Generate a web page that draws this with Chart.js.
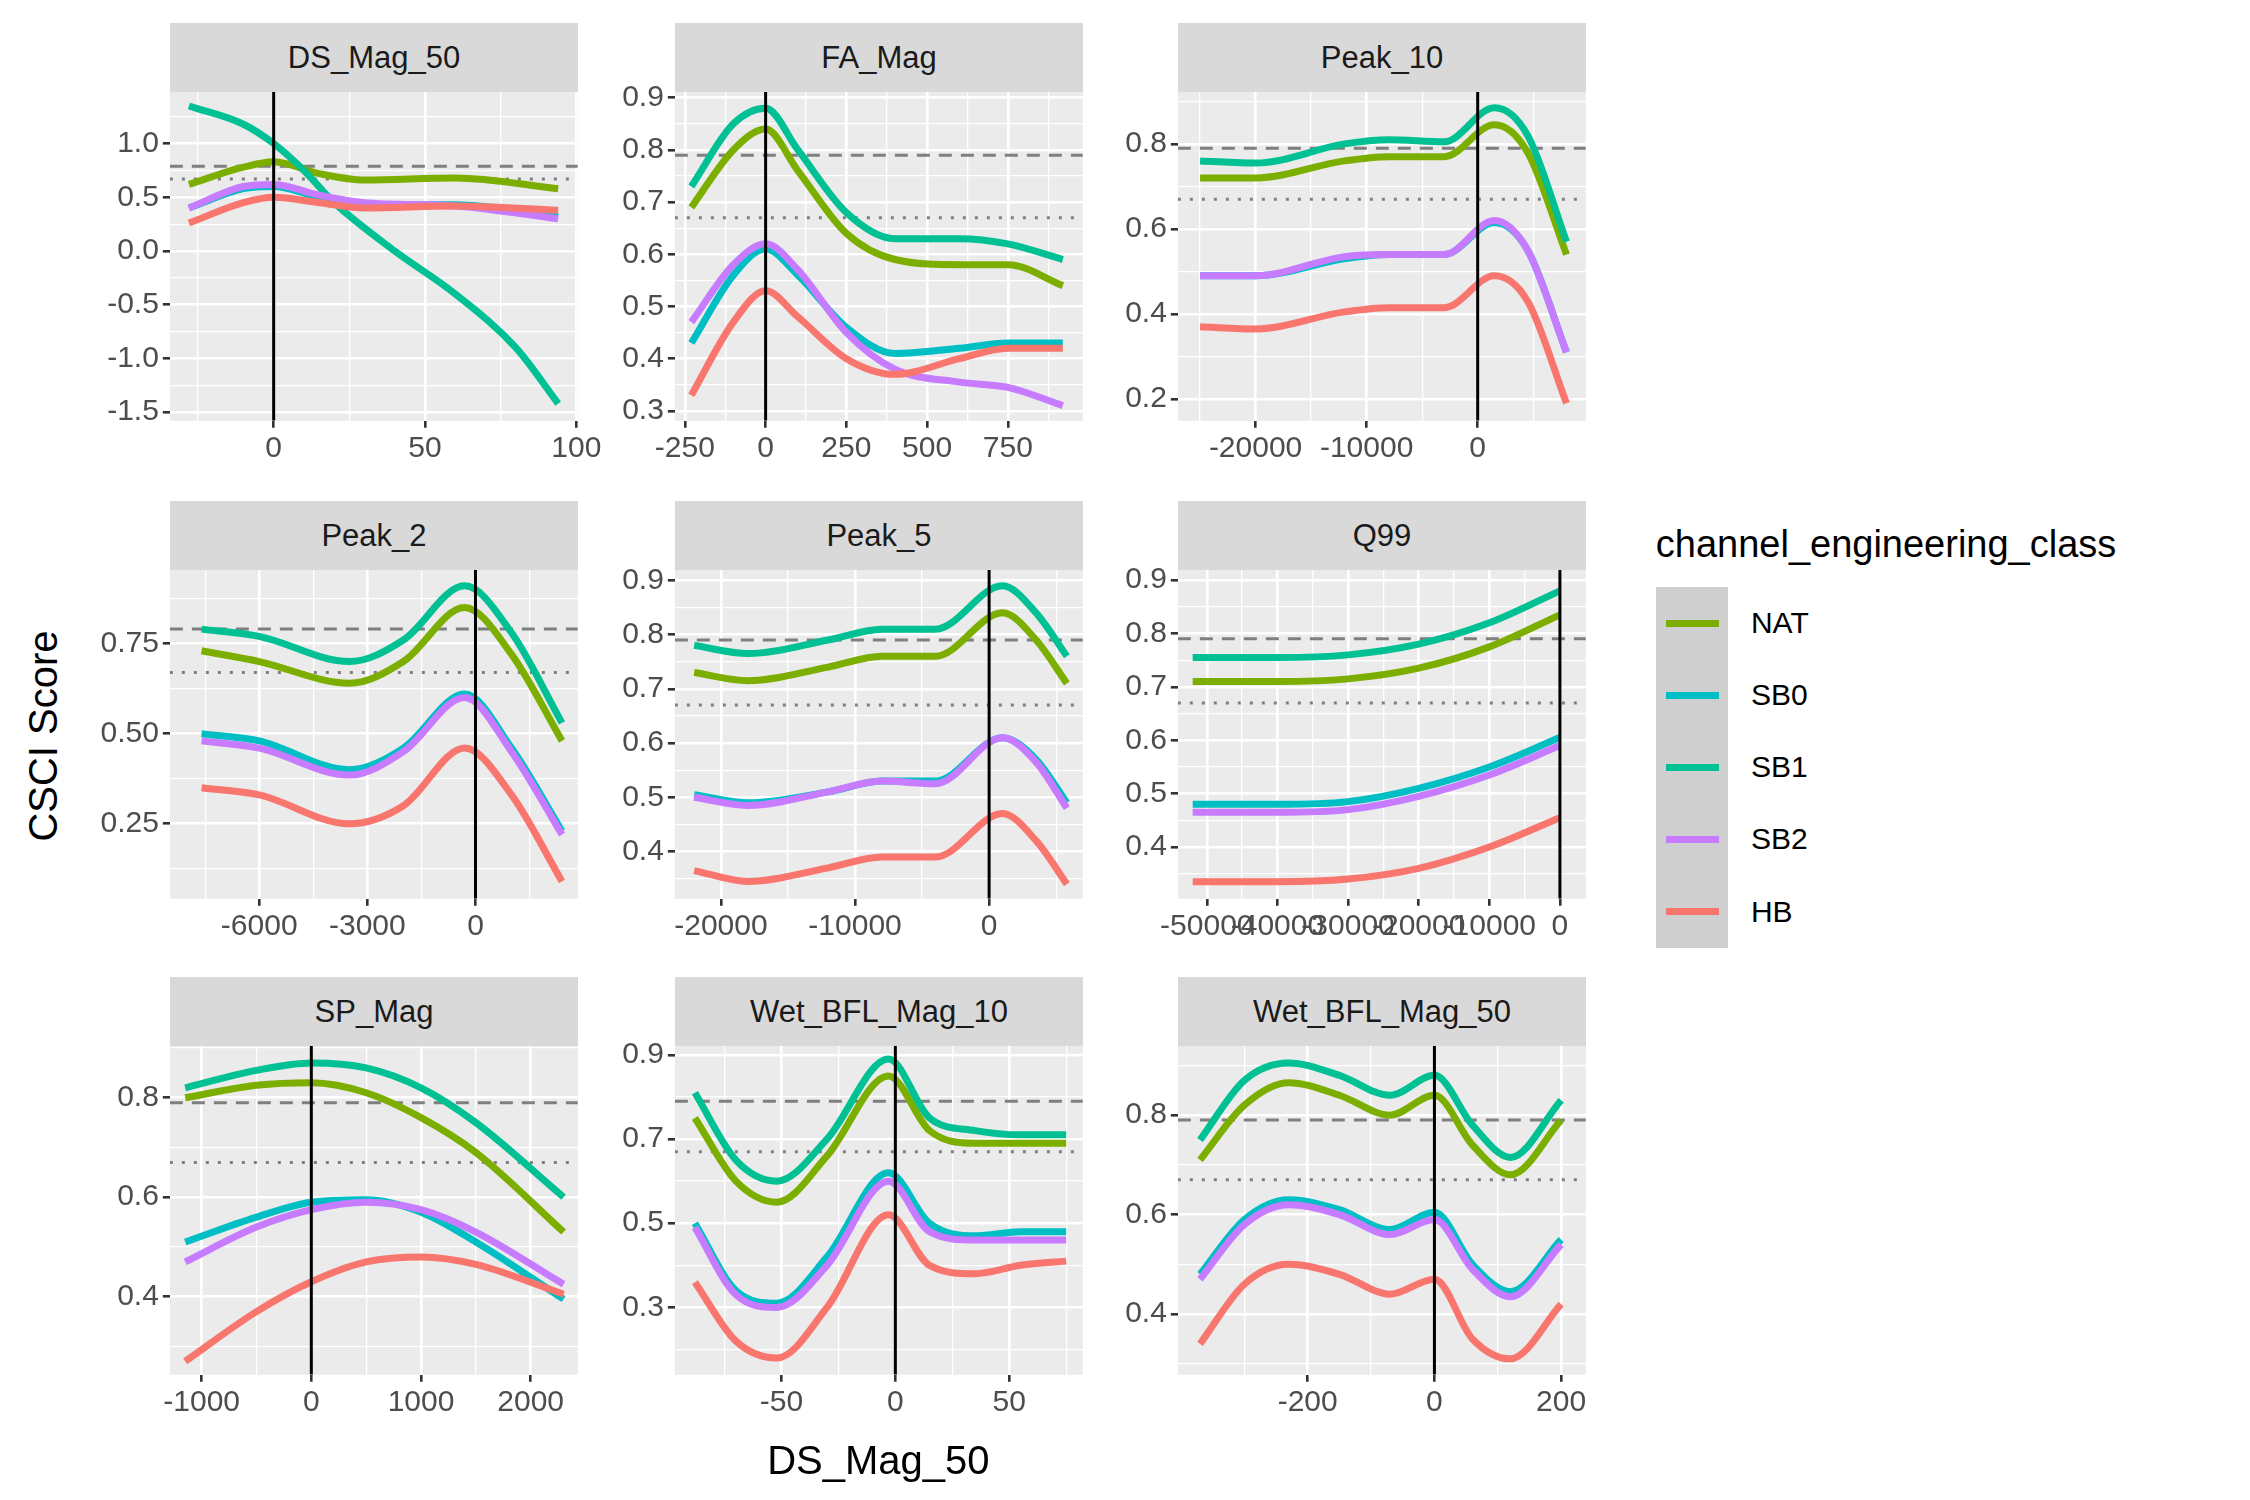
<!DOCTYPE html>
<html>
<head>
<meta charset="utf-8">
<script src="https://cdn.jsdelivr.net/npm/chart.js@4"></script>
<style>
  body { margin: 0; background: #fff; font-family: "Liberation Sans", Arial, sans-serif; }
  #wrap { position: relative; width: 2250px; height: 1500px; overflow: hidden; }
  canvas { position: absolute; }
  .strip { position: absolute; background: #D9D9D9; color: #1A1A1A; font-size: 31px;
           display: flex; align-items: center; justify-content: center; }
  .txt { position: absolute; color: #000; white-space: nowrap; }
</style>
</head>
<body>
<div id="wrap"></div>
<script>
// ---- data ----
var seriesNames = ['NAT', 'SB0', 'SB1', 'SB2', 'HB'];
var seriesColors = ['#7CAE00', '#00BFC4', '#00C094', '#C77CFF', '#F8766D'];
var panelTitles = ['DS_Mag_50', 'FA_Mag', 'Peak_10', 'Peak_2', 'Peak_5', 'Q99', 'SP_Mag', 'Wet_BFL_Mag_10', 'Wet_BFL_Mag_50'];
var refDashed = 0.79;
var refDotted = 0.67;

var p1X   = [-28, -10, 0, 15, 30, 60, 94];
var p1NAT = [0.62, 0.78, 0.83, 0.72, 0.66, 0.68, 0.58];
var p1SB0 = [0.40, 0.58, 0.60, 0.50, 0.43, 0.43, 0.32];
var p1SB2 = [0.40, 0.60, 0.62, 0.52, 0.45, 0.42, 0.30];
var p1HB  = [0.26, 0.45, 0.50, 0.45, 0.40, 0.42, 0.38];
var p1SB1X = [-28, -10, 0, 10, 20, 40, 60, 80, 94];
var p1SB1  = [1.35, 1.18, 1.0, 0.75, 0.45, 0.0, -0.4, -0.9, -1.42];

var p2X   = [-230, -100, 0, 100, 250, 400, 600, 750, 920];
var p2NAT = [0.69, 0.80, 0.84, 0.76, 0.64, 0.59, 0.58, 0.58, 0.54];
var p2SB1 = [0.73, 0.85, 0.88, 0.80, 0.68, 0.63, 0.63, 0.62, 0.59];
var p2SB0 = [0.43, 0.56, 0.61, 0.56, 0.46, 0.41, 0.42, 0.43, 0.43];
var p2SB2 = [0.47, 0.58, 0.62, 0.57, 0.45, 0.38, 0.355, 0.345, 0.31];
var p2HB  = [0.33, 0.47, 0.53, 0.48, 0.40, 0.37, 0.40, 0.42, 0.42];

var p3X   = [-25000, -20000, -12000, -8000, -3000, 1500, 4500, 8000];
var p3NAT = [0.72, 0.72, 0.76, 0.77, 0.77, 0.845, 0.78, 0.54];
var p3SB1 = [0.76, 0.755, 0.80, 0.81, 0.805, 0.885, 0.82, 0.57];
var p3SB0 = [0.49, 0.49, 0.53, 0.54, 0.54, 0.615, 0.55, 0.31];
var p3SB2 = [0.49, 0.49, 0.535, 0.54, 0.54, 0.62, 0.55, 0.31];
var p3HB  = [0.37, 0.365, 0.405, 0.415, 0.415, 0.49, 0.43, 0.19];

var p4X   = [-7600, -6000, -3500, -2000, -300, 1000, 2400];
var p4NAT = [0.73, 0.70, 0.64, 0.70, 0.85, 0.72, 0.48];
var p4SB1 = [0.79, 0.77, 0.70, 0.76, 0.91, 0.78, 0.53];
var p4SB0 = [0.50, 0.48, 0.40, 0.46, 0.61, 0.46, 0.23];
var p4SB2 = [0.48, 0.46, 0.385, 0.45, 0.60, 0.45, 0.22];
var p4HB  = [0.35, 0.33, 0.25, 0.30, 0.46, 0.33, 0.09];

var p5X   = [-22000, -18000, -12000, -8000, -4000, 1000, 3500, 5800];
var p5NAT = [0.73, 0.715, 0.74, 0.76, 0.76, 0.84, 0.79, 0.71];
var p5SB1 = [0.78, 0.765, 0.79, 0.81, 0.81, 0.89, 0.84, 0.76];
var p5SB0 = [0.505, 0.49, 0.51, 0.53, 0.53, 0.61, 0.57, 0.49];
var p5SB2 = [0.50, 0.485, 0.51, 0.53, 0.525, 0.61, 0.565, 0.48];
var p5HB  = [0.365, 0.345, 0.37, 0.39, 0.39, 0.47, 0.42, 0.34];

var p6X   = [-52000, -40000, -30000, -20000, -10000, 0];
var p6NAT = [0.71, 0.71, 0.715, 0.735, 0.775, 0.835];
var p6SB1 = [0.755, 0.755, 0.76, 0.78, 0.82, 0.88];
var p6SB0 = [0.48, 0.48, 0.485, 0.51, 0.55, 0.605];
var p6SB2 = [0.465, 0.465, 0.47, 0.495, 0.535, 0.59];
var p6HB  = [0.335, 0.335, 0.34, 0.36, 0.40, 0.455];

var p7X   = [-1150, -500, 0, 500, 1000, 1500, 2300];
var p7NAT = [0.80, 0.825, 0.83, 0.81, 0.76, 0.69, 0.53];
var p7SB1 = [0.82, 0.855, 0.87, 0.86, 0.82, 0.75, 0.60];
var p7SB0 = [0.51, 0.56, 0.59, 0.595, 0.57, 0.51, 0.395];
var p7SB2 = [0.47, 0.54, 0.575, 0.59, 0.575, 0.53, 0.425];
var p7HB  = [0.27, 0.37, 0.43, 0.47, 0.48, 0.465, 0.405];

var p8X   = [-88, -70, -52, -30, -3, 15, 35, 55, 75];
var p8NAT = [0.75, 0.60, 0.55, 0.66, 0.85, 0.72, 0.69, 0.69, 0.69];
var p8SB1 = [0.81, 0.65, 0.60, 0.70, 0.89, 0.75, 0.72, 0.71, 0.71];
var p8SB0 = [0.50, 0.34, 0.31, 0.42, 0.62, 0.50, 0.47, 0.48, 0.48];
var p8SB2 = [0.49, 0.33, 0.30, 0.40, 0.60, 0.48, 0.46, 0.46, 0.46];
var p8HB  = [0.36, 0.22, 0.18, 0.30, 0.52, 0.40, 0.38, 0.40, 0.41];

var p9X   = [-370, -300, -230, -150, -70, 0, 60, 120, 200];
var p9NAT = [0.71, 0.82, 0.865, 0.84, 0.80, 0.84, 0.74, 0.68, 0.79];
var p9SB1 = [0.75, 0.87, 0.905, 0.88, 0.84, 0.88, 0.78, 0.715, 0.83];
var p9SB0 = [0.48, 0.59, 0.63, 0.61, 0.57, 0.605, 0.50, 0.445, 0.55];
var p9SB2 = [0.47, 0.58, 0.62, 0.60, 0.56, 0.59, 0.49, 0.435, 0.54];
var p9HB  = [0.34, 0.46, 0.50, 0.48, 0.44, 0.47, 0.35, 0.31, 0.42];

// axis limits and ticks
var xLimits = [[-34.3, 100.5], [-281, 982], [-27000, 9740], [-8480, 2840], [-23440, 6990], [-54100, 3670], [-1290, 2430], [-96.8, 82.3], [-405, 239]];
var yLimits = [[-1.58, 1.48], [0.281, 0.911], [0.149, 0.922], [0.042, 0.954], [0.313, 0.919], [0.303, 0.919], [0.243, 0.904], [0.14, 0.921], [0.278, 0.939]];
var xTicks = [[0, 50, 100], [-250, 0, 250, 500, 750], [-20000, -10000, 0], [-6000, -3000, 0], [-20000, -10000, 0],
              [-50000, -40000, -30000, -20000, -10000, 0], [-1000, 0, 1000, 2000], [-50, 0, 50], [-200, 0, 200]];
var yTicks = [[-1.5, -1.0, -0.5, 0.0, 0.5, 1.0], [0.3, 0.4, 0.5, 0.6, 0.7, 0.8, 0.9], [0.2, 0.4, 0.6, 0.8], [0.25, 0.50, 0.75],
              [0.4, 0.5, 0.6, 0.7, 0.8, 0.9], [0.4, 0.5, 0.6, 0.7, 0.8, 0.9], [0.4, 0.6, 0.8], [0.3, 0.5, 0.7, 0.9], [0.4, 0.6, 0.8]];
var yDecimals = [1, 1, 1, 2, 1, 1, 1, 1, 1];

var panelX = [p1X, p2X, p3X, p4X, p5X, p6X, p7X, p8X, p9X];
var panelY = [
  [p1NAT, p1SB0, p1SB1, p1SB2, p1HB], [p2NAT, p2SB0, p2SB1, p2SB2, p2HB], [p3NAT, p3SB0, p3SB1, p3SB2, p3HB],
  [p4NAT, p4SB0, p4SB1, p4SB2, p4HB], [p5NAT, p5SB0, p5SB1, p5SB2, p5HB], [p6NAT, p6SB0, p6SB1, p6SB2, p6HB],
  [p7NAT, p7SB0, p7SB1, p7SB2, p7HB], [p8NAT, p8SB0, p8SB1, p8SB2, p8HB], [p9NAT, p9SB0, p9SB1, p9SB2, p9HB]
];

// ---- layout (measured at 1560 px width, scaled up) ----
var S = 2250 / 1560;
var colLeft = [118, 468, 817];
var rowTop = [64, 395, 725];
var plotW = 283, plotH = 228, stripH = 48;
var L = 72 * S, B = 48 * S, R = 32 * S, T = 24;
var tickFont = 30;
var wrap = document.getElementById('wrap');

function withMinor(t, lo, hi) {
  var out = [];
  var step = t.length > 1 ? t[1] - t[0] : 1;
  var first = t[0] - step / 2;
  for (var v = first; v <= hi + 1e-9; v += step / 2) {
    if (v >= lo - 1e-9) {
      var major = t.some(function (m) { return Math.abs(m - v) < step * 1e-6; });
      out.push({ value: v, major: major });
    }
  }
  return out;
}

function pts(xs, ys) {
  return xs.map(function (x, i) { return { x: x, y: ys[i] }; });
}

function addText(str, left, top, size) {
  var d = document.createElement('div');
  d.className = 'txt';
  d.textContent = str;
  d.style.left = left + 'px';
  d.style.top = top + 'px';
  d.style.fontSize = size + 'px';
  wrap.appendChild(d);
  return d;
}

panelTitles.forEach(function (title, p) {
  var c = p % 3, r = Math.floor(p / 3);
  var pl = Math.round(colLeft[c] * S), pt = Math.round(rowTop[r] * S);
  var pw = Math.round(plotW * S), ph = Math.round(plotH * S);

  var strip = document.createElement('div');
  strip.className = 'strip';
  strip.textContent = title;
  strip.style.left = pl + 'px';
  strip.style.top = (pt - Math.round(stripH * S)) + 'px';
  strip.style.width = pw + 'px';
  strip.style.height = Math.round(stripH * S) + 'px';
  wrap.appendChild(strip);

  var cv = document.createElement('canvas');
  cv.width = Math.round(pw + L + R);
  cv.height = Math.round(ph + B + T);
  cv.style.left = (pl - Math.round(L)) + 'px';
  cv.style.top = (pt - T) + 'px';
  wrap.appendChild(cv);

  var xl = xLimits[p], yl = yLimits[p];
  var datasets = [];
  datasets.push({ data: [{ x: xl[0], y: refDashed }, { x: xl[1], y: refDashed }], borderColor: '#7F7F7F',
                  borderWidth: 3, borderDash: [13, 9], order: 10 });
  datasets.push({ data: [{ x: xl[0], y: refDotted }, { x: xl[1], y: refDotted }], borderColor: '#7F7F7F',
                  borderWidth: 3, borderDash: [3, 9], order: 10 });
  var drawOrder = [4, 3, 1, 2, 0]; // HB bottom ... NAT top
  seriesNames.forEach(function (name, s) {
    var xs = (p === 0 && name === 'SB1') ? p1SB1X : panelX[p];
    var ys = (p === 0 && name === 'SB1') ? p1SB1 : panelY[p][s];
    datasets.push({ data: pts(xs, ys), borderColor: seriesColors[s], borderWidth: 7,
                    cubicInterpolationMode: 'monotone', order: 1 + drawOrder.indexOf(s) });
  });
  datasets.push({ data: [{ x: 0, y: yl[0] }, { x: 0, y: yl[1] }], borderColor: '#000', borderWidth: 3, order: 0 });

  var xt = withMinor(xTicks[p], xl[0], xl[1]);
  var yt = withMinor(yTicks[p], yl[0], yl[1]);

  function gridOpts(list) {
    return {
      color: '#FFFFFF',
      lineWidth: function (ctx) { var t = list[ctx.index]; return t && t.major ? 2.6 : 1.3; },
      tickColor: function (ctx) { var t = list[ctx.index]; return t && t.major ? '#333333' : 'rgba(0,0,0,0)'; },
      tickLength: 7,
      tickWidth: 2.6
    };
  }

  new Chart(cv.getContext('2d'), {
    type: 'line',
    data: { datasets: datasets },
    options: {
      responsive: false,
      animation: false,
      devicePixelRatio: 1,
      layout: { padding: { left: 0, right: R, top: T, bottom: 0 } },
      elements: { point: { radius: 0 } },
      plugins: { legend: { display: false }, tooltip: { enabled: false } },
      scales: {
        x: {
          type: 'linear', min: xl[0], max: xl[1],
          afterBuildTicks: function (sc) { sc.ticks = xt.map(function (t) { return { value: t.value }; }); },
          afterFit: function (sc) { sc.height = B; },
          border: { display: false },
          grid: gridOpts(xt),
          ticks: {
            autoSkip: false, maxRotation: 0, color: '#4D4D4D', padding: 3,
            font: { size: tickFont, family: 'Liberation Sans' },
            callback: function (v, i) { return xt[i] && xt[i].major ? String(Math.round(v)) : ''; }
          }
        },
        y: {
          type: 'linear', min: yl[0], max: yl[1],
          afterBuildTicks: function (sc) { sc.ticks = yt.map(function (t) { return { value: t.value }; }); },
          afterFit: function (sc) { sc.width = L; },
          border: { display: false },
          grid: gridOpts(yt),
          ticks: {
            autoSkip: false, color: '#4D4D4D', padding: 4,
            font: { size: tickFont, family: 'Liberation Sans' },
            callback: function (v, i) { return yt[i] && yt[i].major ? Number(v).toFixed(yDecimals[p]) : ''; }
          }
        }
      }
    },
    plugins: [{
      id: 'panelBg',
      beforeDraw: function (chart) {
        var a = chart.chartArea, g = chart.ctx;
        g.save();
        g.fillStyle = '#EBEBEB';
        g.fillRect(a.left, a.top, a.right - a.left, a.bottom - a.top);
        g.restore();
      }
    }]
  });
});

// axis titles
var ytl = addText('CSCI Score', 30 * S, 510 * S, 40);
ytl.style.transform = 'translate(-50%, -50%) rotate(-90deg)';
var xtl = addText('DS_Mag_50', 609 * S, 1012 * S, 40);
xtl.style.transform = 'translate(-50%, -50%)';

// legend
var lt = addText('channel_engineering_class', 1148 * S, 377 * S, 38);
lt.style.transform = 'translateY(-50%)';
var keyBox = document.createElement('div');
keyBox.style.cssText = 'position:absolute;background:#CFCFCF;left:' + (1148 * S) + 'px;top:' + (407 * S) +
  'px;width:' + (50 * S) + 'px;height:' + (250 * S) + 'px;';
wrap.appendChild(keyBox);
seriesNames.forEach(function (name, s) {
  var cy = (432 + 50 * s) * S;
  var ln = document.createElement('div');
  ln.style.cssText = 'position:absolute;left:' + (1155 * S) + 'px;top:' + (cy - 3.5) + 'px;width:' + (37 * S) +
    'px;height:7px;background:' + seriesColors[s] + ';';
  wrap.appendChild(ln);
  var t = addText(name, 1214 * S, cy, 30);
  t.style.transform = 'translateY(-50%)';
});
</script>
</body>
</html>
